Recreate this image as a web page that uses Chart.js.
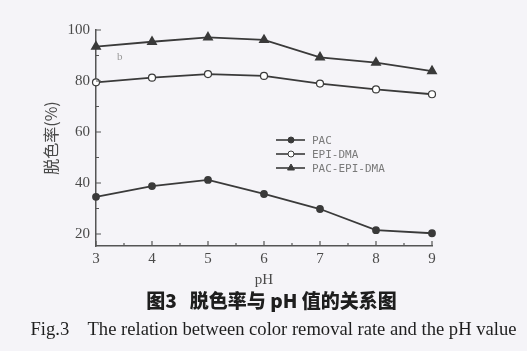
<!DOCTYPE html>
<html>
<head>
<meta charset="utf-8">
<script src="https://cdn.jsdelivr.net/npm/chart.js@4"></script>
<style>
  body { margin: 0; background: #f5f4f8; width: 527px; height: 351px; overflow: hidden; position: relative; }
  #wrap { position: absolute; left: 0; top: 0; width: 527px; height: 351px; }
  .cap { position: absolute; left: 0; width: 527px; text-align: center; color: #1e1e1e; white-space: pre; }
  #cn { top: 286px; left: 8px; font: 900 19px "Noto Sans CJK SC"; }
  #en { top: 318px; left: 10px; font: 18.6px "Liberation Serif"; }
</style>
</head>
<body>
<div id="wrap"><canvas id="myChart" width="527" height="351"></canvas></div>
<div class="cap" id="cn">图3   脱色率与 pH 值的关系图</div>
<div class="cap" id="en">Fig.3    The relation between color removal rate and the pH value</div>
<script>
var phValues = [3, 4, 5, 6, 7, 8, 9];
var pac = [34.6, 38.8, 41.2, 35.7, 29.8, 21.5, 20.3];
var epiDma = [79.5, 81.3, 82.7, 82.0, 79.0, 76.7, 74.8];
var pacEpiDma = [93.5, 95.4, 97.1, 96.1, 89.3, 87.2, 83.9];
var yTicks = [20, 40, 60, 80, 100];
var seriesNames = ["PAC", "EPI-DMA", "PAC-EPI-DMA"];

var lineColor = '#3a3a3a';

function pts(arr) {
    return phValues.map(function (x, i) { return { x: x, y: arr[i] }; });
}

// inward ticks, legend and the little "b"
var extras = {
    id: 'extras',
    afterDraw: function (chart) {
        var ctx = chart.ctx;
        var xs = chart.scales.x, ys = chart.scales.y;
        var a = chart.chartArea;
        ctx.save();
        ctx.strokeStyle = '#555';
        ctx.lineWidth = 1.2;
        ctx.beginPath();
        for (var v = 3; v <= 9; v += 0.5) {
            var px = xs.getPixelForValue(v);
            var len = (v % 1 === 0) ? 5 : 3;
            ctx.moveTo(px, a.bottom);
            ctx.lineTo(px, a.bottom - len);
        }
        for (var w = 20; w <= 100; w += 10) {
            var py = ys.getPixelForValue(w);
            var l2 = (w % 20 === 0) ? 5 : 3;
            ctx.moveTo(a.left, py);
            ctx.lineTo(a.left + l2, py);
        }
        ctx.stroke();

        // legend
        var rows = [140, 154, 168];
        var styles = ['circle', 'circle', 'triangle'];
        var fills = [lineColor, '#ffffff', lineColor];
        for (var i = 0; i < 3; i++) {
            var y = rows[i];
            ctx.strokeStyle = lineColor;
            ctx.lineWidth = 1.6;
            ctx.beginPath();
            ctx.moveTo(276, y);
            ctx.lineTo(305, y);
            ctx.stroke();
            ctx.fillStyle = fills[i];
            ctx.lineWidth = 1;
            Chart.helpers.drawPoint(ctx, {
                pointStyle: styles[i],
                radius: i === 2 ? 4 : 3,
                borderWidth: 1
            }, 291, y);
            ctx.fillStyle = '#7a7a7a';
            ctx.font = '11px "DejaVu Sans Mono"';
            ctx.textBaseline = 'middle';
            ctx.textAlign = 'left';
            ctx.fillText(seriesNames[i], 312, y + 1);
        }

        ctx.fillStyle = '#999';
        ctx.font = '11px "Liberation Serif"';
        ctx.fillText('b', 117, 57);
        ctx.restore();
    }
};

var ctx = document.getElementById('myChart').getContext('2d');
var chart = new Chart(ctx, {
    type: 'line',
    data: {
        datasets: [{
            label: seriesNames[0],
            data: pts(pac),
            borderColor: lineColor,
            backgroundColor: lineColor,
            pointBackgroundColor: lineColor,
            pointStyle: 'circle',
            pointRadius: 3,
            borderWidth: 1.8,
            clip: false
        }, {
            label: seriesNames[1],
            data: pts(epiDma),
            borderColor: lineColor,
            backgroundColor: '#ffffff',
            pointBackgroundColor: '#ffffff',
            pointStyle: 'circle',
            pointRadius: 3.5,
            pointBorderWidth: 1.2,
            borderWidth: 1.8,
            clip: false
        }, {
            label: seriesNames[2],
            data: pts(pacEpiDma),
            borderColor: lineColor,
            backgroundColor: lineColor,
            pointBackgroundColor: lineColor,
            pointStyle: 'triangle',
            pointRadius: 4.5,
            borderWidth: 1.8,
            clip: false
        }]
    },
    options: {
        responsive: false,
        animation: false,
        layout: { padding: { top: 30, right: 95, left: 0, bottom: 0 } },
        plugins: { legend: { display: false }, tooltip: { enabled: false } },
        scales: {
            x: {
                type: 'linear',
                min: 3,
                max: 9,
                afterFit: function (s) { s.height = 105; },
                ticks: { stepSize: 1, padding: 4, color: '#4a4a4a', font: { family: 'Liberation Serif', size: 15 } },
                grid: { display: false, drawTicks: false },
                border: { color: '#555', width: 1.5 },
                title: { display: true, text: 'pH', color: '#4a4a4a', font: { family: 'Liberation Serif', size: 15 }, padding: { bottom: 62 } }
            },
            y: {
                min: 15.3,
                max: 100,
                afterFit: function (s) { s.width = 96; },
                afterBuildTicks: function (s) { s.ticks = yTicks.map(function (v) { return { value: v }; }); },
                ticks: { padding: 6, color: '#4a4a4a', font: { family: 'Liberation Serif', size: 15 } },
                grid: { display: false, drawTicks: false },
                border: { color: '#555', width: 1.5 },
                title: { display: true, text: '脱色率(%)', color: '#4a4a4a', font: { family: 'Noto Sans CJK SC', size: 16 }, padding: { top: 41 } }
            }
        }
    },
    plugins: [extras]
});
</script>
</body>
</html>
